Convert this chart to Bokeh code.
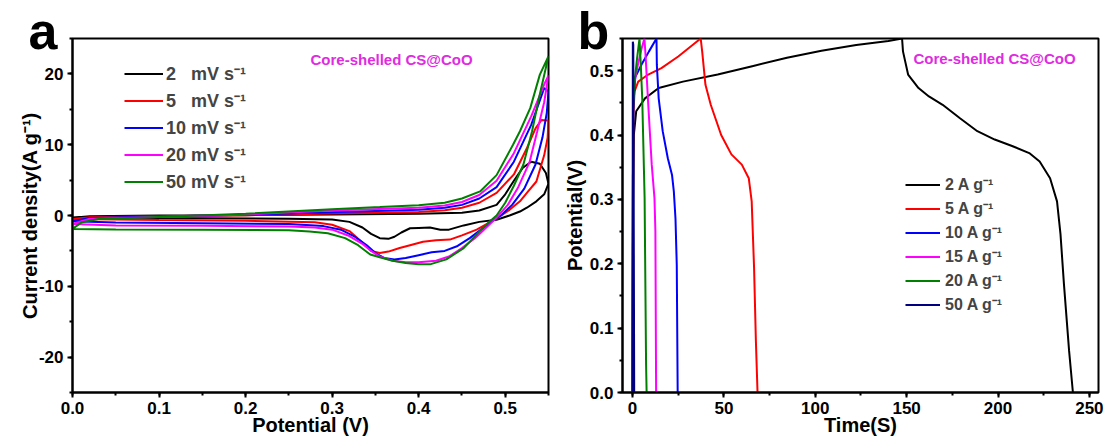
from bokeh.plotting import figure
from bokeh.models import (Range1d, SingleIntervalTicker, PrintfTickFormatter,
                          Legend, LegendItem, Label)
from bokeh.layouts import row
from bokeh.embed import file_html
from bokeh.resources import INLINE

FONT = "Liberation Sans"

# ---------------- Panel a: CV curves (potential V, current density A/g) ----------------
cv_labels = ["2\u2007 mV s\u207b\u00b9", "5\u2007 mV s\u207b\u00b9", "10 mV s\u207b\u00b9",
             "20 mV s\u207b\u00b9", "50 mV s\u207b\u00b9"]
cv_colors = ["#000000", "#ff0000", "#0000ff", "#ff00ff", "#008000"]

# 2 mV/s
cv2_up_x = [0, 0.02, 0.1, 0.2, 0.3, 0.4, 0.45, 0.47, 0.49, 0.5, 0.51, 0.52, 0.53, 0.54, 0.547, 0.55]
cv2_up_y = [-0.3, -0.1, 0.0, 0.05, 0.15, 0.25, 0.4, 0.7, 1.5, 3.0, 4.9, 6.7, 7.6, 7.3, 6.0, 4.5]
cv2_dn_x = [0.55, 0.545, 0.536, 0.525, 0.517, 0.505, 0.49, 0.47, 0.452, 0.435, 0.425, 0.413, 0.4,
            0.39, 0.38, 0.372, 0.365, 0.355, 0.345, 0.335, 0.32, 0.3, 0.25, 0.15, 0.05, 0]
cv2_dn_y = [4.5, 3.0, 2.0, 1.1, 0.56, 0.0, -0.6, -0.9, -1.4, -2.0, -2.0, -1.7, -1.75,
            -1.8, -2.4, -3.0, -3.3, -3.2, -2.6, -1.7, -0.9, -0.55, -0.45, -0.4, -0.35, -0.3]
# 5 mV/s
cv5_up_x = [0, 0.02, 0.1, 0.2, 0.3, 0.4, 0.43, 0.45, 0.47, 0.49, 0.51, 0.525, 0.535, 0.542, 0.55]
cv5_up_y = [-0.5, -0.25, -0.1, 0.05, 0.3, 0.5, 0.75, 1.1, 1.8, 3.2, 5.8, 9.5, 12.3, 13.5, 13.4]
cv5_dn_x = [0.55, 0.549, 0.545, 0.536, 0.525, 0.517, 0.505, 0.494, 0.48, 0.467, 0.45, 0.436, 0.42,
            0.405, 0.39, 0.378, 0.365, 0.355, 0.345, 0.335, 0.32, 0.3, 0.28, 0.2, 0.1, 0]
cv5_dn_y = [13.4, 11.0, 8.5, 4.8, 3.2, 2.0, 0.8, -0.1, -1.1, -2.0, -2.8, -3.4, -3.5,
            -3.7, -4.2, -4.6, -5.1, -5.3, -5.0, -3.8, -2.2, -1.3, -0.95, -0.75, -0.65, -0.5]
# 10 mV/s
cv10_up_x = [0, 0.02, 0.1, 0.2, 0.3, 0.4, 0.43, 0.45, 0.47, 0.49, 0.51, 0.53, 0.545, 0.55]
cv10_up_y = [-0.8, -0.35, -0.15, 0.1, 0.45, 0.8, 1.1, 1.5, 2.4, 4.0, 7.6, 12.8, 18.0, 17.5]
cv10_dn_x = [0.55, 0.548, 0.543, 0.535, 0.522, 0.508, 0.495, 0.485, 0.472, 0.459, 0.445, 0.43,
             0.415, 0.4, 0.385, 0.372, 0.36, 0.35, 0.34, 0.325, 0.31, 0.29, 0.25, 0.15, 0.05, 0]
cv10_dn_y = [17.5, 14.5, 11.0, 7.2, 3.8, 1.5, 0.0, -0.8, -2.0, -3.2, -4.3, -5.0,
             -5.2, -5.6, -6.0, -6.2, -6.0, -5.3, -4.2, -2.9, -2.0, -1.5, -1.2, -1.1, -1.0, -0.8]
# 20 mV/s
cv20_up_x = [0, 0.02, 0.1, 0.2, 0.3, 0.4, 0.43, 0.45, 0.47, 0.49, 0.51, 0.53, 0.545, 0.55]
cv20_up_y = [-1.2, -0.45, -0.2, 0.15, 0.7, 1.1, 1.4, 1.9, 2.9, 4.9, 8.8, 14.0, 18.5, 19.8]
cv20_dn_x = [0.55, 0.545, 0.537, 0.528, 0.515, 0.503, 0.49, 0.48, 0.465, 0.45, 0.435, 0.42, 0.40,
             0.385, 0.37, 0.355, 0.345, 0.335, 0.32, 0.3, 0.28, 0.25, 0.15, 0.05, 0]
cv20_dn_y = [19.8, 16.0, 11.9, 7.5, 4.0, 1.5, -0.3, -1.5, -3.2, -4.6, -5.8, -6.4, -6.6,
             -6.6, -6.4, -5.8, -5.0, -4.0, -2.9, -2.0, -1.7, -1.55, -1.45, -1.4, -1.2]
# 50 mV/s
cv50_up_x = [0, 0.01, 0.03, 0.1, 0.2, 0.3, 0.355, 0.4, 0.43, 0.45, 0.471, 0.49, 0.509, 0.517,
             0.529, 0.54, 0.55]
cv50_up_y = [-1.9, -1.0, -0.5, -0.2, 0.25, 0.9, 1.2, 1.45, 1.8, 2.4, 3.4, 5.7, 10.0, 11.9,
             15.2, 19.9, 22.5]
cv50_dn_x = [0.55, 0.539, 0.531, 0.521, 0.51, 0.5, 0.49, 0.482, 0.47, 0.452, 0.432, 0.413, 0.40,
             0.385, 0.37, 0.355, 0.344, 0.33, 0.315, 0.295, 0.274, 0.25, 0.15, 0.05, 0]
cv50_dn_y = [22.5, 16.6, 11.9, 7.2, 4.2, 1.8, 0.0, -0.85, -2.3, -4.6, -6.2, -6.9, -6.9,
             -6.7, -6.4, -5.9, -5.5, -4.2, -3.2, -2.5, -2.26, -2.1, -2.0, -1.97, -1.9]

cv_x = [cv2_up_x + cv2_dn_x, cv5_up_x + cv5_dn_x, cv10_up_x + cv10_dn_x,
        cv20_up_x + cv20_dn_x, cv50_up_x + cv50_dn_x]
cv_y = [cv2_up_y + cv2_dn_y, cv5_up_y + cv5_dn_y, cv10_up_y + cv10_dn_y,
        cv20_up_y + cv20_dn_y, cv50_up_y + cv50_dn_y]

# ---------------- Panel b: GCD curves (time s, potential V) ----------------
gcd_labels = ["2 A g\u207b\u00b9", "5 A g\u207b\u00b9", "10 A g\u207b\u00b9",
              "15 A g\u207b\u00b9", "20 A g\u207b\u00b9", "50 A g\u207b\u00b9"]
gcd_colors = ["#000000", "#ff0000", "#0000ff", "#ff00ff", "#008000", "#000080"]

gcd2_t = [0, 0.3, 0.7, 2.0, 6.8, 14.3, 27.6, 46.6, 65.5, 84.5, 103.4, 122.4, 140, 147.5,
          148, 150.8, 156.5, 162.2, 169.7, 179.2, 188.7, 198.2, 207.7, 217.1, 222.8, 228.5,
          232.3, 234.2, 236.1, 238.9, 241]
gcd2_v = [0, 0.3, 0.40, 0.437, 0.457, 0.473, 0.483, 0.494, 0.507, 0.52, 0.531, 0.54, 0.546, 0.55,
          0.53, 0.494, 0.473, 0.46, 0.447, 0.426, 0.406, 0.393, 0.383, 0.372, 0.359, 0.333,
          0.297, 0.246, 0.168, 0.065, 0]
gcd5_t = [0, 0.4, 1.1, 3.1, 8, 15.8, 25, 37.3,
          38.1, 39.9, 42.8, 48.5, 54.1, 59.8, 63.6, 65.2, 66.5, 67.5, 68.4]
gcd5_v = [0, 0.43, 0.468, 0.483, 0.493, 0.504, 0.522, 0.55,
          0.53, 0.478, 0.447, 0.40, 0.37, 0.354, 0.333, 0.297, 0.194, 0.08, 0]
gcd10_t = [0, 0.3, 1.5, 5, 9, 13.1, 13.3, 14.3, 16.5, 19.3, 21.6, 22.6, 23.5, 24.2, 24.7]
gcd10_v = [0, 0.44, 0.49, 0.51, 0.53, 0.55, 0.509, 0.457, 0.406, 0.364, 0.338, 0.312, 0.27,
           0.198, 0]
gcd15_t = [0, 0.3, 1.1, 3, 5, 6.5, 7.2, 8.4, 10.5, 12.0, 12.5, 12.9]
gcd15_v = [0, 0.45, 0.483, 0.51, 0.535, 0.55, 0.52, 0.457, 0.354, 0.302, 0.25, 0]
gcd20_t = [0, 0.3, 1, 2.5, 3.8, 4.5, 5.3, 6.6, 7.4, 7.7]
gcd20_v = [0, 0.44, 0.48, 0.52, 0.55, 0.51, 0.457, 0.302, 0.044, 0]
gcd50_t = [0, 0.15, 0.4, 0.9]
gcd50_v = [0, 0.545, 0.54, 0]

gcd_t = [gcd2_t, gcd5_t, gcd10_t, gcd15_t, gcd20_t, gcd50_t]
gcd_v = [gcd2_v, gcd5_v, gcd10_v, gcd15_v, gcd20_v, gcd50_v]

annot_text = "Core-shelled CS@CoO"
annot_color = "#e02be0"

TOP = 70          # top border inside the canvas
SHIFT = TOP - 38  # part of the canvas pulled above the window


def style(p, letter, offset):
    p.grid.visible = False
    p.background_fill_color = "white"
    p.border_fill_color = "white"
    p.outline_line_color = "black"
    p.outline_line_width = 2
    p.outline_line_alpha = 1
    p.margin = (-SHIFT, 0, 0, 0)
    for ax in p.axis:
        ax.axis_line_width = 2
        ax.major_tick_line_width = 2
        ax.minor_tick_line_width = 2
        ax.major_tick_out = 5
        ax.major_tick_in = 0
        ax.minor_tick_out = 3
        ax.minor_tick_in = 0
        ax.major_label_text_font = FONT
        ax.major_label_text_font_style = "bold"
        ax.major_label_text_font_size = "17px"
        ax.major_label_text_color = "black"
        ax.major_label_standoff = 4
        ax.axis_label_text_font = FONT
        ax.axis_label_text_font_style = "bold"
        ax.axis_label_text_font_size = "20px"
        ax.axis_label_text_color = "black"
    p.title.text = letter
    p.title.align = "left"
    p.title.vertical_align = "bottom"
    p.title.offset = offset
    p.title.standoff = -42
    p.title.text_font = FONT
    p.title.text_font_style = "bold"
    p.title.text_font_size = "52px"
    p.title.text_color = "black"


# ---------------- figure a ----------------
pa = figure(width=560, height=443 + SHIFT, x_range=Range1d(0, 0.55), y_range=Range1d(-25, 25),
            output_backend="svg", toolbar_location=None,
            min_border_left=72, min_border_right=12, min_border_top=TOP, min_border_bottom=51)
style(pa, "a", -44)
pa.xaxis.ticker = SingleIntervalTicker(interval=0.1, num_minor_ticks=2)
pa.yaxis.ticker = SingleIntervalTicker(interval=10, num_minor_ticks=2)
pa.xaxis.formatter = PrintfTickFormatter(format="%.1f")
pa.yaxis.formatter = PrintfTickFormatter(format="%d")
pa.xaxis.axis_label = "Potential (V)"
pa.yaxis.axis_label = "Current density(A g\u207b\u00b9)"
pa.xaxis.axis_label_standoff = -3
pa.yaxis.axis_label_standoff = -5

items_a = []
for xs, ys, c, lab in zip(cv_x, cv_y, cv_colors, cv_labels):
    r = pa.line(xs, ys, line_color=c, line_width=2)
    items_a.append(LegendItem(label=lab, renderers=[r]))
leg_a = Legend(items=items_a, location=(52, 199), border_line_alpha=0, background_fill_alpha=0,
               label_text_font=FONT, label_text_font_style="bold", label_text_font_size="18px",
               glyph_width=39, glyph_height=21, label_height=21, label_standoff=3,
               spacing=3, padding=0, margin=0)
pa.add_layout(leg_a)
pa.add_layout(Label(x=238, y=333, x_units="screen", y_units="screen", text=annot_text,
                    text_color=annot_color, text_font=FONT, text_font_style="bold",
                    text_font_size="15px", text_baseline="middle"))

# ---------------- figure b ----------------
pb = figure(width=545, height=443 + SHIFT, x_range=Range1d(-5.5, 255), y_range=Range1d(0, 0.55),
            output_backend="svg", toolbar_location=None,
            min_border_left=61, min_border_right=7, min_border_top=TOP, min_border_bottom=51)
style(pb, "b", -45)
pb.xaxis.ticker = SingleIntervalTicker(interval=50, num_minor_ticks=2)
pb.yaxis.ticker = SingleIntervalTicker(interval=0.1, num_minor_ticks=2)
pb.xaxis.formatter = PrintfTickFormatter(format="%d")
pb.yaxis.formatter = PrintfTickFormatter(format="%.1f")
pb.xaxis.axis_label = "Time(S)"
pb.yaxis.axis_label = "Potential(V)"
pb.xaxis.axis_label_standoff = -3
pb.yaxis.axis_label_standoff = 1

items_b = []
for ts, vs, c, lab in zip(gcd_t, gcd_v, gcd_colors, gcd_labels):
    r = pb.line(ts, vs, line_color=c, line_width=2)
    items_b.append(LegendItem(label=lab, renderers=[r]))
leg_b = Legend(items=items_b, location=(283, 77), border_line_alpha=0, background_fill_alpha=0,
               label_text_font=FONT, label_text_font_style="bold", label_text_font_size="16px",
               glyph_width=35, glyph_height=19, label_height=19, label_standoff=5,
               spacing=2, padding=0, margin=0)
pb.add_layout(leg_b)
pb.add_layout(Label(x=291, y=334, x_units="screen", y_units="screen", text=annot_text,
                    text_color=annot_color, text_font=FONT, text_font_style="bold",
                    text_font_size="15px", text_baseline="middle"))

layout = row(pa, pb)
open("out.html", "w").write(file_html(layout, INLINE))
